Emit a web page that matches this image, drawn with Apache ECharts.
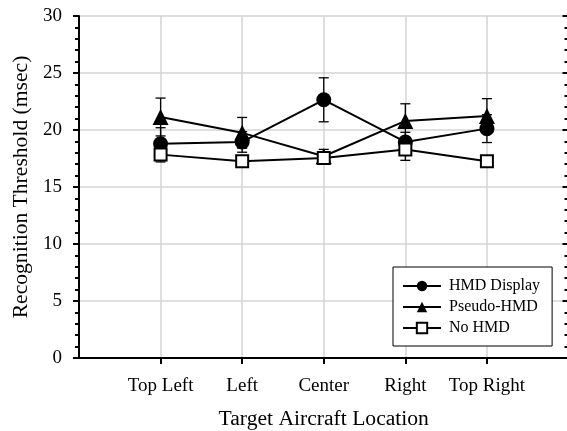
<!DOCTYPE html>
<html><head><meta charset="utf-8">
<script src="https://cdn.jsdelivr.net/npm/echarts@6/dist/echarts.min.js"></script>
<style>html,body{margin:0;padding:0;background:#fff}#c{width:567px;height:431px}</style>
</head><body><div id="c"></div>
<script>
const categories = ['', 'Top Left', 'Left', 'Center', 'Right', 'Top Right', ''];
const seriesNames = ['HMD Display', 'Pseudo-HMD', 'No HMD'];
const hmdValues = [18.8, 18.95, 22.65, 18.95, 20.12];
const hmdErr = [1.4, 0.9, 1.93, 0.85, 1.22];
const pseudoValues = [21.14, 19.75, 17.7, 20.8, 21.23];
const pseudoErr = [1.66, 1.35, 0.6, 1.5, 1.52];
const noHmdValues = [17.84, 17.25, 17.55, 18.28, 17.25];
const noHmdErr = [0.64, 0.5, 0.5, 0.94, 0.5];
const yMin = 0, yMax = 30, yStep = 5;

const FONT = 'Liberation Serif';
const pts = vals => vals.map((v, i) => [i + 1, v]);
const errs = (vals, e) => vals.map((v, i) => [i + 1, v - e[i], v + e[i]]);

function errorSeries(data) {
  return {
    type: 'custom', z: 1, silent: true, data: data,
    renderItem: function (params, api) {
      const x = api.value(0);
      const lo = api.coord([x, api.value(1)]);
      const hi = api.coord([x, api.value(2)]);
      const w = 5;
      const st = { stroke: '#000', lineWidth: 1.3 };
      return { type: 'group', children: [
        { type: 'line', shape: { x1: lo[0], y1: lo[1], x2: hi[0], y2: hi[1] }, style: st },
        { type: 'line', shape: { x1: lo[0] - w, y1: lo[1], x2: lo[0] + w, y2: lo[1] }, style: st },
        { type: 'line', shape: { x1: hi[0] - w, y1: hi[1], x2: hi[0] + w, y2: hi[1] }, style: st }
      ]};
    }
  };
}
function lineSeries(name, vals, symbol, size, fill) {
  return {
    type: 'line', name: name, z: 3, data: pts(vals),
    symbol: symbol, symbolSize: size,
    lineStyle: { color: '#000', width: 2 },
    itemStyle: { color: fill, borderColor: '#000', borderWidth: fill === '#fff' ? 2 : 0 },
    emphasis: { disabled: true }
  };
}
const isCat = (i) => i >= 1 && i <= 5;

const chart = echarts.init(document.getElementById('c'), null, { renderer: 'canvas' });
chart.setOption({
  animation: false,
  textStyle: { fontFamily: FONT, color: '#000' },
  grid: { left: 79, right: -1.5, top: 16, bottom: 73, containLabel: false, outerBoundsMode: 'none' },
  legend: {
    data: seriesNames, orient: 'vertical', left: 393, top: 267,
    padding: [10, 12, 9, 9], itemWidth: 38, itemHeight: 13, itemGap: 3,
    backgroundColor: '#fff', borderColor: '#000', borderWidth: 1,
    textStyle: { fontFamily: FONT, fontSize: 16, color: '#000', lineHeight: 18, padding: [0, 0, 0, 3] }
  },
  xAxis: [{
    type: 'category', data: categories, boundaryGap: false,
    axisLine: { lineStyle: { color: '#000', width: 2 } },
    axisTick: { show: true, length: 6, interval: isCat, lineStyle: { color: '#000', width: 2 } },
    axisLabel: { interval: isCat, fontFamily: FONT, fontSize: 19, color: '#000', margin: 19 },
    splitLine: { show: true, interval: isCat, lineStyle: { color: '#d4d4d4', width: 1.5 } },
    name: 'Target Aircraft Location', nameLocation: 'middle', nameGap: 50,
    nameTextStyle: { fontFamily: FONT, fontSize: 21.6, color: '#000' }
  }, {
    type: 'category', data: categories, boundaryGap: false, position: 'top',
    axisLine: { lineStyle: { color: '#000', width: 2 } },
    axisTick: { show: false }, axisLabel: { show: false }, splitLine: { show: false }
  }],
  yAxis: [{
    type: 'value', min: yMin, max: yMax, interval: yStep,
    axisLine: { show: true, lineStyle: { color: '#000', width: 2 } },
    axisTick: { show: true, length: 6, lineStyle: { color: '#000', width: 2 } },
    minorTick: { show: true, splitNumber: 5, length: 4, lineStyle: { color: '#000', width: 2 } },
    axisLabel: { fontFamily: FONT, fontSize: 19, color: '#000', margin: 17 },
    splitLine: { show: true, lineStyle: { color: '#d4d4d4', width: 1.5 } },
    name: 'Recognition Threshold (msec)', nameLocation: 'middle', nameGap: 43,
    nameTextStyle: { fontFamily: FONT, fontSize: 21.6, color: '#000' }
  }, {
    type: 'value', min: yMin, max: yMax, interval: yStep, position: 'right',
    axisLine: { show: true, lineStyle: { color: '#000', width: 2 } },
    axisTick: { show: true, inside: true, length: 6, lineStyle: { color: '#000', width: 2 } },
    minorTick: { show: true, splitNumber: 5, length: 4, lineStyle: { color: '#000', width: 2 } },
    axisLabel: { show: false }, splitLine: { show: false }
  }],
  series: [
    errorSeries(errs(hmdValues, hmdErr)),
    errorSeries(errs(pseudoValues, pseudoErr)),
    errorSeries(errs(noHmdValues, noHmdErr)),
    lineSeries(seriesNames[0], hmdValues, 'circle', 15, '#000'),
    lineSeries(seriesNames[1], pseudoValues, 'triangle', 16, '#000'),
    lineSeries(seriesNames[2], noHmdValues, 'rect', 12, '#fff')
  ]
});
</script>
</body></html>
